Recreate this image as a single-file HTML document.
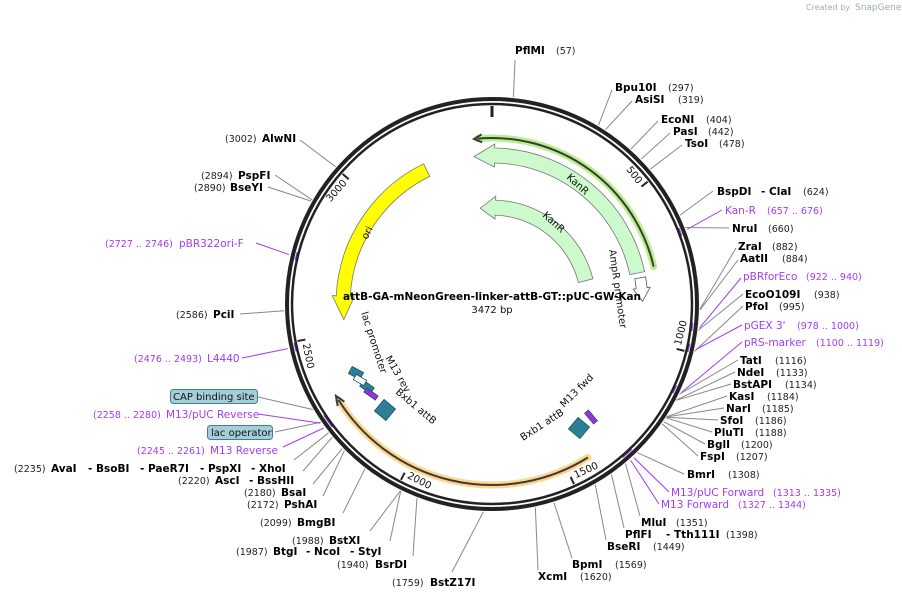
<!DOCTYPE html>
<html><head><meta charset="utf-8"><style>
html,body{margin:0;padding:0;background:#fff;width:902px;height:600px;overflow:hidden}
svg{display:block}
text{font-family:"DejaVu Sans","Liberation Sans",sans-serif}
.e{font-weight:bold;font-size:10.5px;fill:#000}
.n{font-size:9.5px;fill:#222}
.p{font-size:10.5px;fill:#a23cf0}
.pn{font-size:9.5px;fill:#a23cf0}
.f{font-size:10px;fill:#111}
</style></head><body>
<svg id="s" width="902" height="600" viewBox="0 0 902 600" xmlns="http://www.w3.org/2000/svg">
<g id="lines"></g>
<g id="feat"></g>
<circle cx="492" cy="304" r="205" fill="none" stroke="#222" stroke-width="4"/>
<circle cx="492" cy="304" r="200" fill="none" stroke="#222" stroke-width="2.5"/>
<g id="ticks"></g>

<text x="806" y="10" font-size="8" fill="#aaa">Created by</text>
<text x="855" y="10" font-size="9" fill="#9ab">SnapGene</text>

<text x="492" y="300" text-anchor="middle" class="e" font-size="11.3">attB-GA-mNeonGreen-linker-attB-GT::pUC-GW-Kan</text>
<text x="492" y="313" text-anchor="middle" class="f" font-size="11">3472 bp</text>

<text class="f" transform="translate(566,178) rotate(42)">KanR</text>
<text class="f" transform="translate(542,216) rotate(42)">KanR</text>
<text class="f" transform="translate(367,240) rotate(-62)">ori</text>
<text class="f" transform="translate(609,250) rotate(82)">AmpR promoter</text>
<text class="f" transform="translate(361,313) rotate(72)">lac promoter</text>
<text class="f" transform="translate(385,358) rotate(60)">M13 rev</text>
<text class="f" transform="translate(395,393) rotate(40)">Bxb1 attB</text>
<text class="f" transform="translate(564,408) rotate(-45)">M13 fwd</text>
<text class="f" transform="translate(523,441) rotate(-33)">Bxb1 attB</text>

<text class="e" x="515" y="54">PflMI</text><text class="n" x="556" y="54">(57)</text>
<text class="e" x="615" y="91">Bpu10I</text><text class="n" x="668" y="91">(297)</text>
<text class="e" x="635" y="103">AsiSI</text><text class="n" x="678" y="103">(319)</text>
<text class="e" x="661" y="123">EcoNI</text><text class="n" x="706" y="123">(404)</text>
<text class="e" x="673" y="135">PasI</text><text class="n" x="708" y="135">(442)</text>
<text class="e" x="685" y="147">TsoI</text><text class="n" x="719" y="147">(478)</text>
<text class="e" x="717" y="195">BspDI</text><text class="e" x="761" y="195">- ClaI</text><text class="n" x="803" y="195">(624)</text>
<text class="p" x="725" y="214">Kan-R</text><text class="pn" x="767" y="214">(657 .. 676)</text>
<text class="e" x="732" y="232">NruI</text><text class="n" x="768" y="232">(660)</text>
<text class="e" x="738" y="250">ZraI</text><text class="n" x="772" y="250">(882)</text>
<text class="e" x="740" y="262">AatII</text><text class="n" x="782" y="262">(884)</text>
<text class="p" x="743" y="280">pBRforEco</text><text class="pn" x="806" y="280">(922 .. 940)</text>
<text class="e" x="745" y="298">EcoO109I</text><text class="n" x="814" y="298">(938)</text>
<text class="e" x="745" y="310">PfoI</text><text class="n" x="779" y="310">(995)</text>
<text class="p" x="744" y="329">pGEX 3'</text><text class="pn" x="797" y="329">(978 .. 1000)</text>
<text class="p" x="744" y="346">pRS-marker</text><text class="pn" x="816" y="346">(1100 .. 1119)</text>
<text class="e" x="740" y="364">TatI</text><text class="n" x="775" y="364">(1116)</text>
<text class="e" x="737" y="376">NdeI</text><text class="n" x="776" y="376">(1133)</text>
<text class="e" x="733" y="388">BstAPI</text><text class="n" x="785" y="388">(1134)</text>
<text class="e" x="729" y="400">KasI</text><text class="n" x="767" y="400">(1184)</text>
<text class="e" x="726" y="412">NarI</text><text class="n" x="762" y="412">(1185)</text>
<text class="e" x="720" y="424">SfoI</text><text class="n" x="755" y="424">(1186)</text>
<text class="e" x="714" y="436">PluTI</text><text class="n" x="755" y="436">(1188)</text>
<text class="e" x="707" y="448">BglI</text><text class="n" x="741" y="448">(1200)</text>
<text class="e" x="700" y="460">FspI</text><text class="n" x="736" y="460">(1207)</text>
<text class="e" x="687" y="478">BmrI</text><text class="n" x="728" y="478">(1308)</text>
<text class="p" x="671" y="496">M13/pUC Forward</text><text class="pn" x="773" y="496">(1313 .. 1335)</text>
<text class="p" x="661" y="508">M13 Forward</text><text class="pn" x="738" y="508">(1327 .. 1344)</text>
<text class="e" x="641" y="526">MluI</text><text class="n" x="676" y="526">(1351)</text>
<text class="e" x="625" y="538">PflFI</text><text class="e" x="666" y="538">- Tth111I</text><text class="n" x="726" y="538">(1398)</text>
<text class="e" x="607" y="550">BseRI</text><text class="n" x="653" y="550">(1449)</text>
<text class="e" x="572" y="568">BpmI</text><text class="n" x="615" y="568">(1569)</text>
<text class="e" x="538" y="580">XcmI</text><text class="n" x="580" y="580">(1620)</text>

<text class="n" x="392" y="586">(1759)</text><text class="e" x="430" y="586">BstZ17I</text>
<text class="n" x="337" y="568">(1940)</text><text class="e" x="375" y="568">BsrDI</text>
<text class="n" x="236" y="555">(1987)</text><text class="e" x="273" y="555">BtgI</text><text class="e" x="306" y="555">- NcoI</text><text class="e" x="350" y="555">- StyI</text>
<text class="n" x="292" y="544">(1988)</text><text class="e" x="329" y="544">BstXI</text>
<text class="n" x="260" y="526">(2099)</text><text class="e" x="297" y="526">BmgBI</text>
<text class="n" x="247" y="508">(2172)</text><text class="e" x="284" y="508">PshAI</text>
<text class="n" x="244" y="496">(2180)</text><text class="e" x="281" y="496">BsaI</text>
<text class="n" x="178" y="484">(2220)</text><text class="e" x="215" y="484">AscI</text><text class="e" x="249" y="484">- BssHII</text>
<text class="n" x="14" y="472">(2235)</text><text class="e" x="51" y="472">AvaI</text><text class="e" x="88" y="472">- BsoBI</text><text class="e" x="140" y="472">- PaeR7I</text><text class="e" x="200" y="472">- PspXI</text><text class="e" x="251" y="472">- XhoI</text>
<text class="pn" x="137" y="454">(2245 .. 2261)</text><text class="p" x="210" y="454">M13 Reverse</text>
<text class="pn" x="93" y="418">(2258 .. 2280)</text><text class="p" x="166" y="418">M13/pUC Reverse</text>
<rect x="207.5" y="425.5" width="65" height="14" rx="3" fill="#a6ced8" stroke="#3c8194"/>
<text class="f" x="211" y="436" font-size="10">lac operator</text>
<rect x="170.5" y="389.5" width="87" height="14" rx="3" fill="#a6ced8" stroke="#3c8194"/>
<text class="f" x="173" y="400" font-size="10">CAP binding site</text>
<text class="pn" x="134" y="362">(2476 .. 2493)</text><text class="p" x="207" y="362">L4440</text>
<text class="n" x="176" y="318">(2586)</text><text class="e" x="213" y="318">PciI</text>
<text class="pn" x="105" y="247">(2727 .. 2746)</text><text class="p" x="179" y="247">pBR322ori-F</text>
<text class="n" x="194" y="191">(2890)</text><text class="e" x="230" y="191">BseYI</text>
<text class="n" x="201" y="179">(2894)</text><text class="e" x="238" y="179">PspFI</text>
<text class="n" x="225" y="142">(3002)</text><text class="e" x="262" y="142">AlwNI</text>
</svg>
<script>
var NS="http://www.w3.org/2000/svg",cx=492,cy=304,T=3472;
function P(r,a){a=a*Math.PI/180;return [cx+r*Math.sin(a),cy-r*Math.cos(a)];}
function A(bp){return bp/T*360;}
function el(par,tag,at){var e=document.createElementNS(NS,tag);for(var k in at)e.setAttribute(k,at[k]);document.getElementById(par).appendChild(e);return e;}
function f(p){return p[0].toFixed(1)+","+p[1].toFixed(1);}
var L=[[57,515,60],[297,612,90],[319,632,101],[404,658,121],[442,670,133],[478,682,145],[624,713,191],[666,722,210,1],[660,729,228],[882,736,248],[884,738,260],[931,741,278,1],[938,743,294],[995,743,306],[989,742,325,1],[1110,742,342,1],[1116,738,360],[1133,735,372],[1134,731,384],[1184,727,396],[1185,724,408],[1186,718,420],[1188,712,432],[1200,705,444],[1207,698,456],[1308,684,474],[1324,669,492,1],[1335,659,504,1],[1351,640,516],[1398,624,528],[1449,606,540],[1569,572,558],[1620,538,570],
[1759,452,572],[1940,413,556],[1987,390,541],[1988,370,531],[2099,343,513],[2172,323,496],[2180,313,484],[2220,303,471],[2235,294,460],[2253,283,447,1],[2270,275,432],[2269,258,414,1],[2310,258,397],[2485,242,358,1],[2586,240,314],[2736,256,243,1],[2890,268,187],[2894,275,175],[3002,300,140]];
L.forEach(function(l){var a=A(l[0]);var s=P(l[3]?209:208,a);el("lines","line",{x1:s[0],y1:s[1],x2:l[1],y2:l[2],stroke:l[3]?"#a23cf0":"#888","stroke-width":1});
 if(l[3]){el("feat","path",{d:"M"+f(P(201,a-1.2))+" A203,203 0 0 1 "+f(P(201,a+1.2)),stroke:"#a23cf0","stroke-width":2.5,fill:"none"});}});
[0,500,1000,1500,2000,2500,3000].forEach(function(b){var a=A(b);var p1=P(198,a),p2=P(b==0?187:190,a);el("ticks","line",{x1:p1[0],y1:p1[1],x2:p2[0],y2:p2[1],stroke:"#222","stroke-width":b==0?3:2});
 if(b){var flip=a>90&&a<270;var rot=flip?a-180:a;var q=P(191,a-1.2);var t=el("ticks","text",{x:0,y:0,"font-size":"10",fill:"#111","text-anchor":flip?"start":"end","dominant-baseline":"central",transform:"translate("+q[0].toFixed(1)+","+q[1].toFixed(1)+") rotate("+rot.toFixed(1)+")"});t.textContent=String(b);}});
function arrow(r1,r2,a0,a1,h,w,fill,stroke){var dir=a1>a0?1:-1;var ab=a1-dir*h;var sw=dir>0?1:0;var big=Math.abs(ab-a0)>180?1:0;var rm=(r1+r2)/2;
 var d="M"+f(P(r2,a0))+" A"+r2+","+r2+" 0 "+big+" "+sw+" "+f(P(r2,ab))+" L"+f(P(r2+w,ab))+" L"+f(P(rm,a1))+" L"+f(P(r1-w,ab))+" L"+f(P(r1,ab))+" A"+r1+","+r1+" 0 "+big+" "+(1-sw)+" "+f(P(r1,a0))+" Z";
 el("feat","path",{d:d,fill:fill,stroke:stroke,"stroke-width":0.8});}
arrow(142,156,334,264,9,4,"#ffff00","#777");
arrow(141,156,78,-7,8,4,"#ccfacc","#777");
arrow(89,104,76,-7,9,4,"#ccfacc","#777");
arrow(145,156,80,89,5,3,"#ffffff","#555");
function arc(r,a0,a1){var sw=a1>a0?1:0;var big=Math.abs(a1-a0)>180?1:0;return "M"+f(P(r,a0))+" A"+r+","+r+" 0 "+big+" "+sw+" "+f(P(r,a1));}
el("feat","path",{d:arc(166,77,-5),stroke:"#b9f08c","stroke-width":7,fill:"none","stroke-linecap":"round"});
el("feat","path",{d:arc(166,77,-5),stroke:"#3a3a3a","stroke-width":2,fill:"none"});
var t=P(166,-6.2),b1=P(162,-3.5),b2=P(170,-3.5);el("feat","path",{d:"M"+f(b1)+" L"+f(t)+" L"+f(b2),stroke:"#3a3a3a","stroke-width":2,fill:"none"});
el("feat","path",{d:arc(181,148,238),stroke:"#ffd68c","stroke-width":7,fill:"none","stroke-linecap":"round"});
el("feat","path",{d:arc(181,148,238),stroke:"#3a3a3a","stroke-width":2,fill:"none"});
t=P(181,239.5);b1=P(177,236.5);b2=P(185,236.5);el("feat","path",{d:"M"+f(b1)+" L"+f(t)+" L"+f(b2),stroke:"#3a3a3a","stroke-width":2,fill:"none"});
function box(x,y,w,h,r,fill){el("feat","rect",{x:-w/2,y:-h/2,width:w,height:h,fill:fill,stroke:"#1d5566","stroke-width":0.8,transform:"translate("+x+","+y+") rotate("+r+")"});}
box(385,410,15,15,40,"#2e7f96");box(579,428,15,15,40,"#2e7f96");
box(356,373,13,8,28,"#2e7f96");box(367,387,13,7,35,"#2e7f96");
box(360,380,12,6,30,"#ffffff");
box(371,394,14,5,35,"#9b30e0");box(591,417,14,5,50,"#9b30e0");
</script>
</body></html>
